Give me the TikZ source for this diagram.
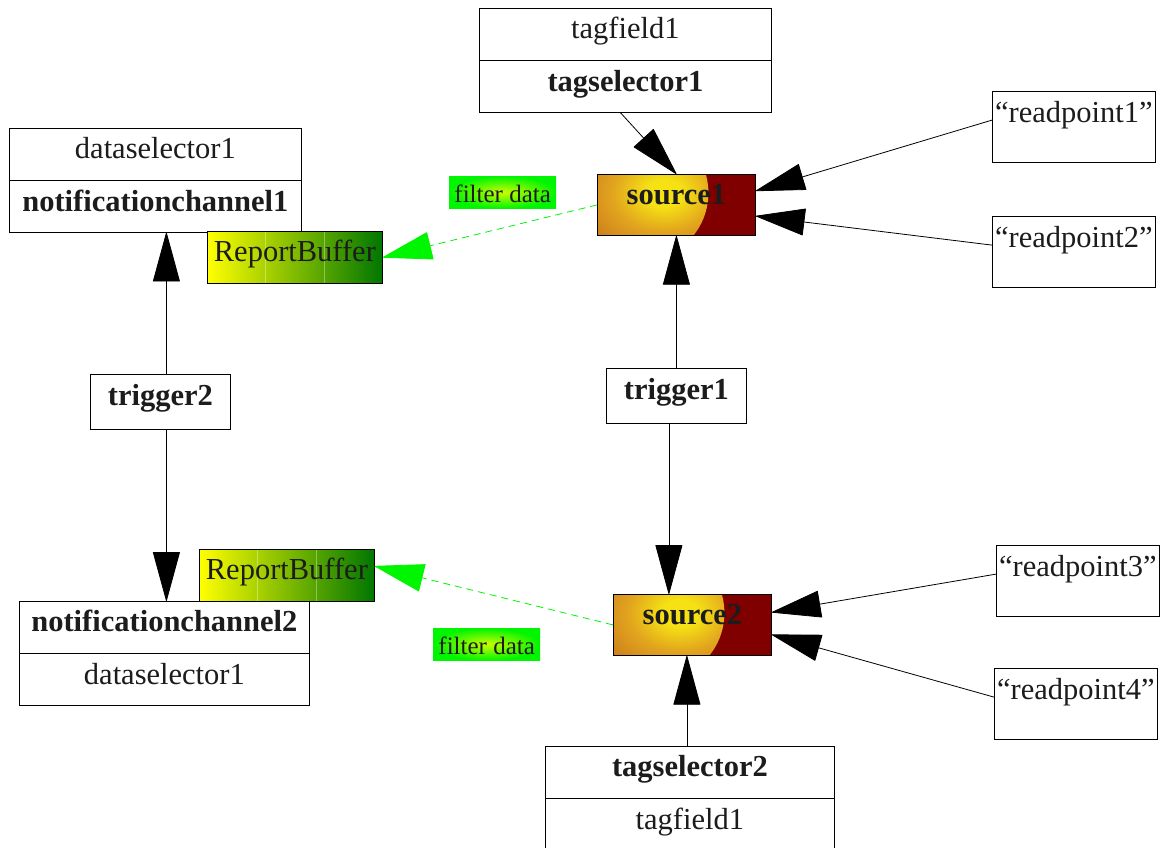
\documentclass[tikz,border=0pt]{standalone}
\usepackage{fontspec}
\setmainfont{Liberation Serif}
\usetikzlibrary{arrows.meta,calc}

\definecolor{maroonfill}{RGB}{128,0,0}
\definecolor{glowcore}{RGB}{245,225,20}
\definecolor{glowin}{RGB}{226,165,30}
\definecolor{glowmid}{RGB}{196,110,28}
\definecolor{glowedge}{RGB}{155,64,24}
\definecolor{limeg}{RGB}{0,245,0}
\definecolor{bufgreen}{RGB}{0,118,0}
\definecolor{ink}{RGB}{28,28,28}

% warm glow inside the source boxes
\pgfdeclareradialshading{srcglow}{\pgfpointorigin}{color(0bp)=(glowcore); color(5bp)=(glowcore); color(14bp)=(glowin); color(28bp)=(glowmid); color(50bp)=(glowedge)}

\tikzset{
  txt/.style={font=\fontsize{30.5}{36}\selectfont, text=ink},
  boldtxt/.style={font=\fontsize{30.5}{36}\selectfont\bfseries, text=ink},
  frame/.style={draw=black, line width=0.8pt, inner sep=0pt},
  cell/.style={frame, fill=white, minimum width=#1, text height=30.5pt, text depth=21pt},
  rp/.style={frame, txt, minimum width=163pt, text height=31pt, text depth=40pt},
  trig/.style={frame, boldtxt, fill=white, minimum width=140pt, text height=31.5pt, text depth=23pt},
  src/.style={frame, boldtxt, fill=maroonfill, minimum width=158pt, text height=30pt, text depth=31pt,
    path picture={\shade[shading=srcglow] ($(path picture bounding box.center)+(-36,-12)$) circle (68pt);}},
  buffer/.style={frame, txt, left color=yellow, right color=bufgreen, minimum width=175pt,
    text height=30pt, text depth=22pt,
    path picture={
      \foreach \f in {1/3,2/3}
        \draw[white, opacity=.35, line width=.6pt]
          ($(path picture bounding box.south west)!\f!(path picture bounding box.south east)$) --
          ($(path picture bounding box.north west)!\f!(path picture bounding box.north east)$);}},
  filterlbl/.style={inner sep=0pt, font=\fontsize{25}{30}\selectfont, text=ink,
    inner color=yellow!80!limeg, outer color=limeg, minimum width=107pt, text height=26pt, text depth=6pt},
  blk/.style={draw=black, line width=0.8pt, -{Triangle[length=50pt,width=27pt,round]}},
  grn/.style={draw=limeg, line width=0.8pt, dash pattern=on 7pt off 5pt,
    -{Triangle[length=50pt,width=28pt,round,fill=limeg,color=limeg]}}
}

\begin{document}
\begin{tikzpicture}[x=1pt,y=-1pt]
\useasboundingbox (0,0) rectangle (1163,847);

% tag selector 1
\node[cell=292pt, txt, anchor=north west] (tf1) at (479,8) {tagfield1};
\node[cell=292pt, boldtxt, anchor=north] (ts1) at (tf1.south) {tagselector1};

% notification channel 1
\node[cell=292pt, txt, anchor=north west] (ds1) at (9,128) {dataselector1};
\node[cell=292pt, boldtxt, anchor=north] (nc1) at (ds1.south) {notificationchannel1};

% notification channel 2
\node[cell=290pt, boldtxt, anchor=north west] (nc2) at (19,601) {notificationchannel2};
\node[cell=290pt, txt, anchor=north] (ds2) at (nc2.south) {dataselector1};

% tag selector 2
\node[cell=289pt, boldtxt, anchor=north west] (ts2) at (545,746) {tagselector2};
\node[cell=289pt, txt, anchor=north] (tf2) at (ts2.south) {tagfield1};

% sources
\node[src, anchor=north west] (src1) at (597,174) {source1};
\node[src, anchor=north west] (src2) at (613,594) {source2};

% triggers
\node[trig, anchor=north west] (trg1) at (606,368) {trigger1};
\node[trig, anchor=north west] (trg2) at (90,374) {trigger2};

% read points
\node[rp, anchor=north west] (rp1) at (992,91) {“readpoint1”};
\node[rp, anchor=north west] (rp2) at (992,216) {“readpoint2”};
\node[rp, anchor=north west] (rp3) at (996,545) {“readpoint3”};
\node[rp, anchor=north west] (rp4) at (994,668) {“readpoint4”};

% report buffers
\node[buffer, anchor=north west] (rb1) at (207,231) {ReportBuffer};
\node[buffer, anchor=north west] (rb2) at (199,549) {ReportBuffer};

% filter labels
\node[filterlbl, anchor=north west] (fd1) at (449,176) {filter data};
\node[filterlbl, anchor=north west] (fd2) at (433,628) {filter data};

% connectors into source1
\draw[blk] ([xshift=-5pt]ts1.south) -- (src1.north);
\draw[blk] (rp1.mid west) -- (src1.10);
\draw[blk] (rp2.mid west) -- (src1.-8);
\draw[blk] (trg1.north) -- (trg1.north |- src1.south);

% connectors into source2
\draw[blk] ([xshift=-7.5pt]trg1.south) -- ([xshift=-7.5pt]trg1.south |- src2.north);
\draw[blk] ([xshift=-3pt]ts2.north) -- ([xshift=-3pt]ts2.north |- src2.south);
\draw[blk] (rp3.mid west) -- (src2.9);
\draw[blk] (rp4.mid west) -- (src2.-7);

% trigger2 to the notification channels
\draw[blk] ([xshift=6pt]trg2.north) -- ([xshift=6pt]trg2.north |- nc1.south);
\draw[blk] ([xshift=6pt]trg2.south) -- ([xshift=6pt]trg2.south |- nc2.north);

% filtered data flows
\draw[grn] (src1.west) -- (rb1.east);
\draw[grn] (src2.west) -- (rb2.6);
\end{tikzpicture}
\end{document}
